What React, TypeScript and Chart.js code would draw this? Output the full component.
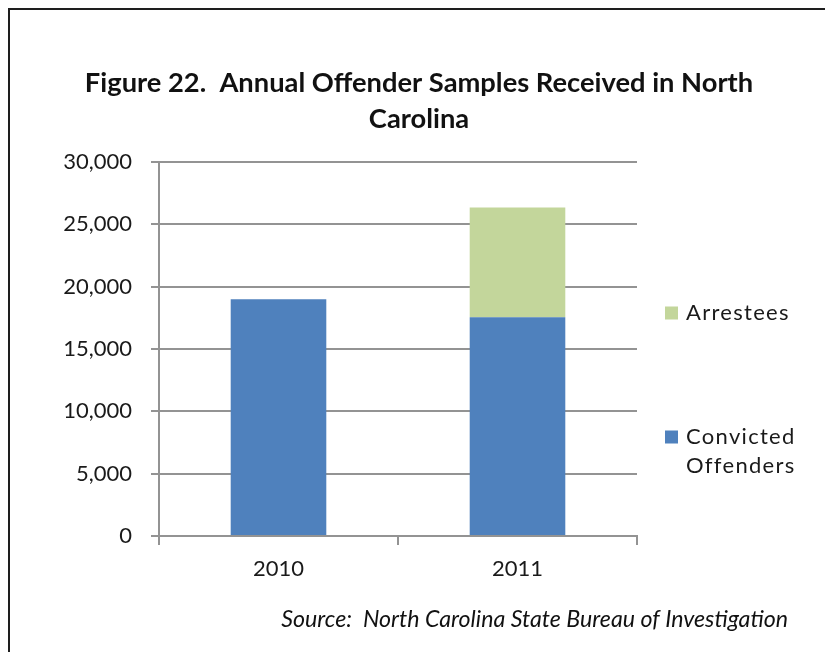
import React, { useEffect, useRef } from "react";
import { Chart, registerables } from "chart.js";

Chart.register(...registerables);

const CATEGORIES = ["2010", "2011"];
const CONVICTED = [19000, 17550];
const ARRESTEES = [null, 8800];
const SERIES_LABELS = ["Convicted Offenders", "Arrestees"];
const SERIES_COLORS = ["#4F81BD", "#C3D69B"];
const Y_MIN = 0;
const Y_MAX = 30000;
const Y_STEP = 5000;
const TITLE_LINES = ["Figure 22.  Annual Offender Samples Received in North", "Carolina"];
const SOURCE_TEXT = "Source:  North Carolina State Bureau of Investigation";

const GRID = "#939393";
const TXT = "#1a1a1a";
const FONT = "Lato";
const TITLE_SIZE = 27.3;
const SOURCE_SIZE = 23.2;
const SOURCE_PAD_BOTTOM = 19;

function wrapText(ctx: CanvasRenderingContext2D, text: string, maxWidth: number): string[] {
  const words = text.split(" ");
  const lines: string[] = [];
  let cur = "";
  for (const w of words) {
    const test = cur ? cur + " " + w : w;
    if (cur && ctx.measureText(test).width > maxWidth) {
      lines.push(cur);
      cur = w;
    } else {
      cur = test;
    }
  }
  if (cur) lines.push(cur);
  return lines;
}

const sideLegend = {
  id: "sideLegend",
  afterDraw(chart: any) {
    const ctx: CanvasRenderingContext2D = chart.ctx;
    const area = chart.chartArea;
    const items = chart.data.datasets
      .map((d: any) => ({ label: d.label as string, color: d.backgroundColor as string }))
      .reverse();
    const offsets = [151, 275];
    ctx.save();
    ctx.font = `22px ${FONT}`;
    (ctx as any).letterSpacing = "1.3px";
    ctx.textBaseline = "middle";
    ctx.textAlign = "left";
    items.forEach((it: any, i: number) => {
      const y = area.top + offsets[i];
      const x = area.right + 28;
      ctx.fillStyle = it.color;
      ctx.fillRect(x, y - 6.5, 13, 13);
      ctx.fillStyle = TXT;
      const lines = wrapText(ctx, it.label, 120);
      lines.forEach((ln, j) => ctx.fillText(ln, x + 21, y + j * 29));
    });
    ctx.restore();
  },
};

export default function App() {
  const canvasRef = useRef<HTMLCanvasElement | null>(null);

  useEffect(() => {
    if (!canvasRef.current) return;
    Chart.defaults.font.family = FONT;
    const chart = new Chart(canvasRef.current, {
      type: "bar",
      data: {
        labels: CATEGORIES,
        datasets: [
          {
            label: SERIES_LABELS[0],
            data: CONVICTED,
            backgroundColor: SERIES_COLORS[0],
            borderWidth: 0,
            barPercentage: 0.4,
            categoryPercentage: 1,
          },
          {
            label: SERIES_LABELS[1],
            data: ARRESTEES as any,
            backgroundColor: SERIES_COLORS[1],
            borderWidth: 0,
            barPercentage: 0.4,
            categoryPercentage: 1,
          },
        ],
      },
      options: {
        responsive: false,
        animation: false,
        devicePixelRatio: 1,
        locale: "en-US",
        layout: { padding: { left: 50, right: 37, top: 0, bottom: 0 } },
        plugins: {
          legend: { display: false },
          tooltip: { enabled: false },
          title: {
            display: true,
            text: TITLE_LINES,
            color: "#111",
            font: { family: FONT, size: TITLE_SIZE, weight: "bold", lineHeight: 36 / TITLE_SIZE },
            padding: { top: 65, bottom: 25 },
          },
          subtitle: {
            display: true,
            position: "bottom",
            align: "end",
            text: SOURCE_TEXT,
            color: "#111",
            font: { family: FONT, size: SOURCE_SIZE, style: "italic", lineHeight: 1.2 },
            padding: { top: 0, bottom: SOURCE_PAD_BOTTOM },
          },
        },
        scales: {
          x: {
            stacked: true,
            grid: {
              offset: true,
              drawOnChartArea: false,
              drawTicks: true,
              tickLength: 9,
              color: GRID,
              lineWidth: 2,
            },
            border: { display: true, color: GRID, width: 2 },
            ticks: { padding: 11, color: TXT, font: { family: FONT, size: 22 } },
            afterFit: (s: any) => {
              s.height = 652 - 536 - (SOURCE_SIZE * 1.2 + SOURCE_PAD_BOTTOM);
            },
          },
          y: {
            stacked: true,
            min: Y_MIN,
            max: Y_MAX,
            ticks: {
              stepSize: Y_STEP,
              padding: 19,
              color: TXT,
              font: { family: FONT, size: 22 },
            },
            grid: { color: GRID, lineWidth: 2, tickLength: 8 },
            border: { display: true, color: GRID, width: 2 },
            afterFit: (s: any) => {
              s.width = 109;
            },
          },
          yR: {
            position: "right",
            display: true,
            grid: { display: false },
            ticks: { display: false },
            border: { display: false },
            afterFit: (s: any) => {
              s.width = 151;
            },
          },
        },
      } as any,
      plugins: [sideLegend],
    });
    return () => chart.destroy();
  }, []);

  return (
    <div>
      <div
        style={{
          position: "fixed",
          left: 8,
          top: 8,
          width: 2000,
          height: 2000,
          borderTop: "2px solid #1e1e1e",
          borderLeft: "2px solid #1e1e1e",
          background: "#fff",
        }}
      />
      <canvas
        ref={canvasRef}
        width={825}
        height={652}
        style={{ position: "fixed", left: 0, top: 0, display: "block" }}
      />
    </div>
  );
}
